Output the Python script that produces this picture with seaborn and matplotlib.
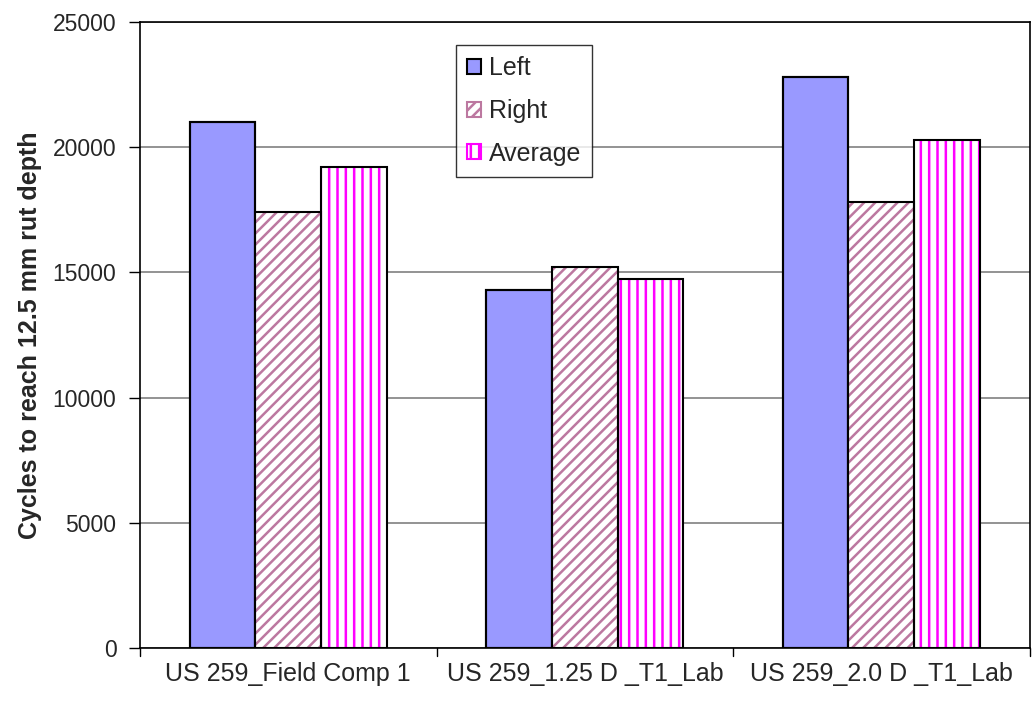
import matplotlib
matplotlib.use("Agg")
import matplotlib.pyplot as plt
import seaborn as sns
import pandas as pd
from matplotlib.patches import Patch, Rectangle

# values
mixes = ["US 259_Field Comp 1", "US 259_1.25 D _T1_Lab", "US 259_2.0 D _T1_Lab"]
left = [21000, 14300, 22800]
right = [17400, 15200, 17800]
average = [19200, 14750, 20300]
series = ["Left", "Right", "Average"]

df = pd.DataFrame({
    "mix": mixes * 3,
    "cycles": left + right + average,
    "side": [s for s in series for _ in mixes],
})

sns.set_style("white")
plt.rcParams["font.family"] = ["Liberation Sans", "DejaVu Sans"]
plt.rcParams["hatch.linewidth"] = 1.8

fig = plt.figure(figsize=(10.32, 7.02), dpi=100)
ax = fig.add_axes([0.1357, 0.0769, 0.862, 0.8918])

sns.barplot(data=df, x="mix", y="cycles", hue="side", order=mixes,
            hue_order=series, palette=["#9999FF", "white", "white"],
            width=0.665, gap=0, ax=ax, legend=False, zorder=2)

styles = {
    "Left": dict(hatch=None, fc="#9999FF", hc=None),
    "Right": dict(hatch="///", fc="white", hc="#BC78A0"),
    "Average": dict(hatch="||", fc="white", hc="#FF00FF"),
}
for cont, name in zip(ax.containers, series):
    st = styles[name]
    for p in cont.patches:
        p.set_facecolor(st["fc"])
        if st["hatch"]:
            p.set_hatch(st["hatch"])
            p.set_edgecolor(st["hc"])
            p.set_linewidth(0)
        else:
            p.set_edgecolor("black")
            p.set_linewidth(1.5)
        # black outline drawn on top of the hatched bar
        ax.add_patch(Rectangle(p.get_xy(), p.get_width(), p.get_height(),
                               fill=False, ec="black", lw=1.5, zorder=3))

ax.set_ylim(0, 25000)
ax.set_xlim(-0.5, 2.5)
ax.set_yticks(range(0, 25001, 5000))
ax.yaxis.grid(True, color="#808080", lw=1.2, zorder=0)
ax.set_axisbelow(True)

ax.set_xticks([0, 1, 2])
ax.set_xticklabels(mixes, fontsize=18)
ax.tick_params(axis="x", length=0, pad=10)
for xb in [-0.5, 0.5, 1.5, 2.5]:
    ax.plot([xb, xb], [0, -0.012], transform=ax.get_xaxis_transform(),
            color="black", lw=1, clip_on=False)
ax.tick_params(axis="y", labelsize=16.5, length=8, width=1, color="black",
               direction="out", left=True, pad=9)

ax.set_xlabel("")
ax.set_ylabel("Cycles to reach 12.5 mm rut depth", fontsize=18,
              fontweight="bold", labelpad=8)

for s in ax.spines.values():
    s.set_color("black")
    s.set_linewidth(1.2)

handles = [
    Patch(facecolor="#9999FF", edgecolor="black", lw=1.5, label="Left"),
    Patch(facecolor="white", edgecolor="#BC78A0", hatch="///", lw=1.5, label="Right"),
    Patch(facecolor="white", edgecolor="#FF00FF", hatch="||", lw=1.5, label="Average"),
]
leg = fig.legend(handles=handles, loc="upper left", bbox_to_anchor=(0.442, 0.936),
                 bbox_transform=fig.transFigure, fontsize=18, frameon=True,
                 fancybox=False, edgecolor="black", handlelength=0.55,
                 handleheight=0.55, handletextpad=0.3, labelspacing=0.75,
                 borderpad=0.45, borderaxespad=0)
leg.get_frame().set_linewidth(1)

fig.savefig("out.png", dpi=100)
